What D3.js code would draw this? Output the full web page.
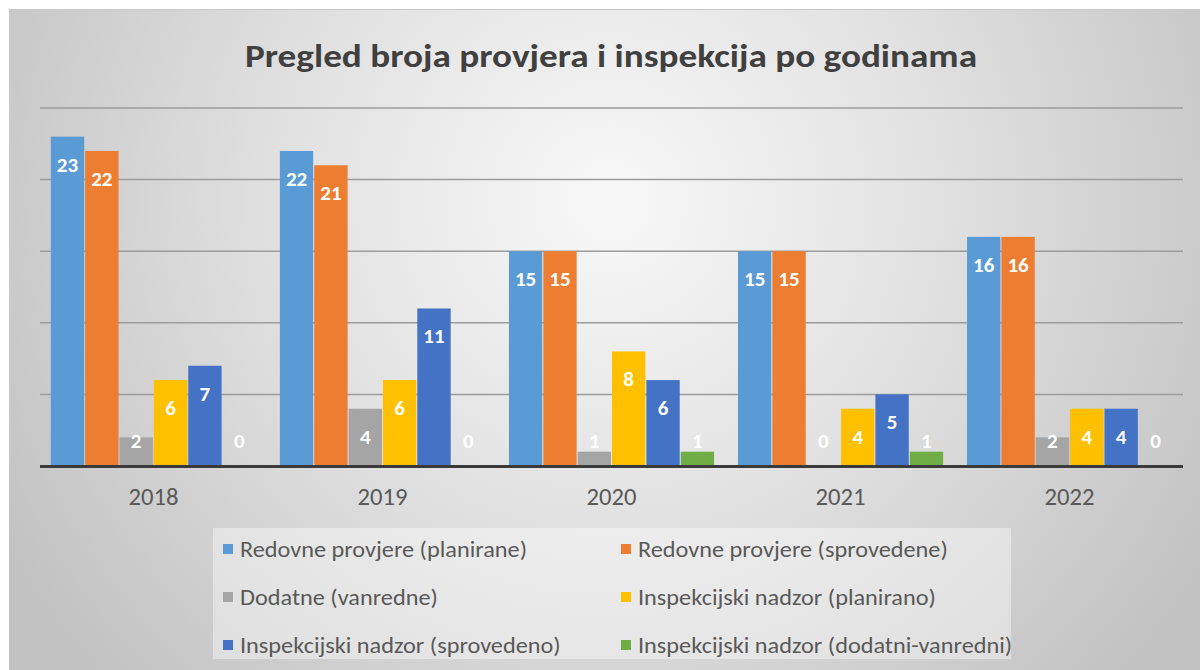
<!DOCTYPE html>
<html>
<head>
<meta charset="utf-8">
<script src="https://cdn.jsdelivr.net/npm/d3@7"></script>
<style>
  html, body { margin: 0; padding: 0; background: #fff; }
  #chart { width: 1200px; height: 670px; }
  text { font-family: Carlito, Calibri, "Liberation Sans Narrow", "Open Sans", sans-serif; }
</style>
</head>
<body>
<div id="chart"></div>
<script>
// ── data ─────────────────────────────────────────────
const years = ["2018", "2019", "2020", "2021", "2022"];
const seriesNames = [
    "Redovne provjere (planirane)",
    "Redovne provjere (sprovedene)",
    "Dodatne (vanredne)",
    "Inspekcijski nadzor (planirano)",
    "Inspekcijski nadzor (sprovedeno)",
    "Inspekcijski nadzor (dodatni-vanredni)"
];
const seriesColors = ["#5b9bd5", "#ed7d31", "#a5a5a5", "#ffc000", "#4472c4", "#70ad47"];
const redovnePlanirane   = [23, 22, 15, 15, 16];
const redovneSprovedene  = [22, 21, 15, 15, 16];
const dodatne            = [2, 4, 1, 0, 2];
const nadzorPlanirano    = [6, 6, 8, 4, 4];
const nadzorSprovedeno   = [7, 11, 6, 5, 4];
const nadzorDodatni      = [0, 0, 1, 1, 0];
const yTicks = [0, 5, 10, 15, 20, 25];
const title = "Pregled broja provjera i inspekcija po godinama";

const seriesValues = [redovnePlanirane, redovneSprovedene, dodatne,
                      nadzorPlanirano, nadzorSprovedeno, nadzorDodatni];

const rows = years.map((y, i) => ({
    year: y,
    vals: seriesNames.map((n, k) => ({ key: n, value: seriesValues[k][i], color: seriesColors[k] }))
}));

// ── layout ───────────────────────────────────────────
const width = 1200, height = 670;
const plot = { left: 40, right: 1183, top: 108, bottom: 466 };

const svg = d3.select("#chart").append("svg")
    .attr("width", width).attr("height", height);

// background gradient
const defs = svg.append("defs");
const grad = defs.append("radialGradient").attr("id", "bg")
    .attr("gradientUnits", "userSpaceOnUse")
    .attr("cx", 610).attr("cy", 200).attr("r", 700);
grad.append("stop").attr("offset", "0").attr("stop-color", "#f8f8f8");
grad.append("stop").attr("offset", "0.45").attr("stop-color", "#e2e2e2");
grad.append("stop").attr("offset", "1").attr("stop-color", "#c2c2c2");

svg.append("rect").attr("x", 9).attr("y", 9)
    .attr("width", width - 9).attr("height", height - 9)
    .attr("fill", "url(#bg)");
svg.append("line").attr("x1", 9).attr("x2", width).attr("y1", 9.5).attr("y2", 9.5)
    .attr("stroke", "#c8c8c8").attr("stroke-width", 1);

// helper: squeeze text to a width (Calibri-like narrow look)
function fit(sel, w) {
    sel.attr("textLength", w).attr("lengthAdjust", "spacingAndGlyphs");
}

// title
svg.append("text")
    .attr("x", 611).attr("y", 67)
    .attr("text-anchor", "middle")
    .style("font-size", "33px").style("font-weight", "bold").style("fill", "#404040")
    .text(title)
    .call(fit, 732);

// scales
const x0 = d3.scaleBand().domain(years)
    .range([plot.left, plot.right]).paddingInner(0.1).paddingOuter(0.045);
const x1 = d3.scaleBand().domain(seriesNames).range([0, x0.bandwidth()]);
const y = d3.scaleLinear().domain([0, 25]).range([plot.bottom, plot.top]);

// gridlines
svg.append("g").selectAll("line").data(yTicks.filter(t => t > 0)).join("line")
    .attr("x1", plot.left).attr("x2", plot.right)
    .attr("y1", d => y(d)).attr("y2", d => y(d))
    .attr("stroke", "#9c9c9c").attr("stroke-width", 1.5);

// bars
const groups = svg.append("g").selectAll("g").data(rows).join("g")
    .attr("transform", d => `translate(${x0(d.year)},0)`);

groups.selectAll("rect").data(d => d.vals).join("rect")
    .attr("x", d => x1(d.key) + 0.5)
    .attr("width", x1.bandwidth() - 1)
    .attr("y", d => y(d.value))
    .attr("height", d => y(0) - y(d.value))
    .attr("fill", d => d.color);

groups.selectAll("text").data(d => d.vals).join("text")
    .attr("x", d => x1(d.key) + x1.bandwidth() / 2)
    .attr("y", d => Math.min(y(d.value) + 35, 448))
    .attr("text-anchor", "middle")
    .style("font-size", "21px").style("font-weight", "bold").style("fill", "#ffffff")
    .text(d => d.value);

// x axis
svg.append("line")
    .attr("x1", plot.left).attr("x2", plot.right)
    .attr("y1", y(0) + 0.5).attr("y2", y(0) + 0.5)
    .attr("stroke", "#3a3a3a").attr("stroke-width", 3);

const xAxis = svg.append("g").attr("transform", `translate(0,${y(0)})`)
    .call(d3.axisBottom(x0).tickSize(0).tickPadding(0));
xAxis.select(".domain").remove();
xAxis.selectAll("text")
    .attr("y", 39)
    .attr("dy", 0)
    .style("font-size", "25px").style("fill", "#595959")
    .style("font-family", "Carlito, Calibri, 'Liberation Sans Narrow', 'Open Sans', sans-serif")
    .each(function () { d3.select(this).call(fit, 50); });

// legend
const legend = svg.append("g");
legend.append("rect")
    .attr("x", 213).attr("y", 528).attr("width", 798).attr("height", 131)
    .attr("fill", "#ffffff").attr("fill-opacity", 0.4);

const legendItems = legend.selectAll("g").data(seriesNames).join("g")
    .attr("transform", (d, i) => `translate(${i % 2 ? 621 : 223},${549 + Math.floor(i / 2) * 48})`);
legendItems.append("rect")
    .attr("x", 0).attr("y", -5).attr("width", 10).attr("height", 10)
    .attr("fill", (d, i) => seriesColors[i]);
const legendTexts = legendItems.append("text")
    .attr("x", 17).attr("y", 7.5)
    .style("font-size", "22px").style("fill", "#595959")
    .text(d => d);

// compress legend text uniformly so the first entry matches the reference width
const firstW = legendTexts.nodes()[0].getComputedTextLength();
const k = 287 / firstW;
legendTexts.each(function () {
    const w = this.getComputedTextLength();
    d3.select(this).call(fit, w * k);
});
</script>
</body>
</html>
